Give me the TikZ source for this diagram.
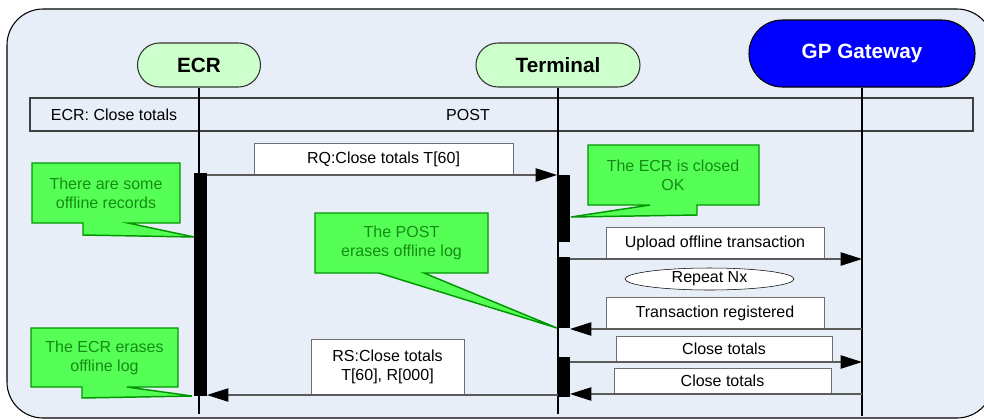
\documentclass[tikz,border=0pt]{standalone}
\usepackage{fontspec}
\setmainfont{Liberation Sans}
\usetikzlibrary{arrows.meta,shapes.geometric}

\definecolor{panel}{RGB}{232,238,248}
\definecolor{pillgreen}{RGB}{204,255,204}
\definecolor{gpblue}{RGB}{0,0,255}
\definecolor{notefill}{RGB}{85,255,85}
\definecolor{noteedge}{RGB}{0,150,0}
\definecolor{notetext}{RGB}{20,140,20}
\definecolor{msgline}{RGB}{90,90,90}
\definecolor{boxedge}{RGB}{110,110,110}

\tikzset{
  pill/.style={draw=black!80, fill=pillgreen, line width=0.8pt, rounded corners=16.5pt,
    minimum height=33pt, inner sep=0pt, font=\fontsize{15.5}{18}\selectfont\bfseries},
  lifeline/.style={line width=1pt, draw=black},
  actbar/.style={fill=black, draw=none, minimum width=9.75pt, inner sep=0pt, outer sep=0pt},
  msgbox/.style={draw=boxedge, fill=white, line width=0.7pt, inner sep=0pt, align=center,
    font=\fontsize{12}{14.25}\selectfont},
  msg/.style={draw=msgline, line width=0.9pt, -{Triangle[length=16pt,width=10pt,color=black]}},
  note/.style={fill=notefill, draw=noteedge, line width=1.1pt, line join=miter},
  notetxt/.style={text=notetext, align=center, font=\fontsize{12}{14.25}\selectfont},
  bandtxt/.style={font=\fontsize{12}{14.25}\selectfont},
}

\begin{document}
\begin{tikzpicture}[x=0.75pt,y=-0.75pt]
\useasboundingbox (0,0) rectangle (984,419);

% panel and header band
\draw[fill=panel, line width=0.8pt, rounded corners=27pt] (7,9) rectangle (993,418);
\draw[draw=black!75, fill=panel, line width=0.8pt] (30,98) rectangle (973,131);
\node[bandtxt] (bandL) at (114,115) {ECR: Close totals};
\node[bandtxt] (bandR) at (468,115) {POST};

% participants
\node[pill, minimum width=92.25pt] (ecr) at (199,65) {ECR};
\node[pill, minimum width=123pt] (term) at (558,65) {Terminal};
\node[pill, draw=black, fill=gpblue, text=white, minimum width=169.5pt,
      minimum height=50.25pt, rounded corners=25pt] (gp) at (862,53.5) {GP Gateway};

% lifelines
\coordinate (ecrEnd) at (199,414);
\coordinate (termEnd) at (558,414);
\coordinate (gpEnd) at (862,416);
\draw[lifeline] (ecr.south) -- (ecrEnd);
\draw[lifeline] (term.south) -- (termEnd);
\draw[lifeline] (gp.south) -- (gpEnd);

% activation bars
\node[actbar, minimum height=167.25pt] (ecrBar) at (200.5,284.5) {};
\node[actbar, minimum height=50.25pt] (tb1) at (563.5,208.5) {};
\node[actbar, minimum height=53.25pt] (tb2) at (563.5,292.5) {};
\node[actbar, minimum height=30pt] (tb3) at (563.5,377) {};

% notes
\draw[note] (32,163) -- (180,163) -- (180,223) -- (128,223) -- (194,237) -- (83,235) -- (83,223) -- (32,223) -- cycle;
\node[notetxt] (n1) at (106,193) {There are some\\offline records};

\draw[note] (588,145) -- (759,145) -- (759,205) -- (697,205) -- (697,215) -- (571,217) -- (650,205) -- (588,205) -- cycle;
\node[notetxt] (n2) at (673,175) {The ECR is closed\\OK};

\draw[note] (315,213) -- (488,213) -- (488,273) -- (424,273) -- (557,328) -- (379,273) -- (315,273) -- cycle;
\node[notetxt] (n3) at (401.5,243) {The POST\\erases offline log};

\draw[note] (31,328) -- (178,328) -- (178,387) -- (127,387) -- (192,396) -- (82,398) -- (82,387) -- (31,387) -- cycle;
\node[notetxt] (n4) at (104.5,357.5) {The ECR erases\\offline log};

% message labels
\node[msgbox, minimum width=194.25pt, minimum height=24pt] (rqbox) at (383.5,159) {RQ:Close totals T[60]};
\node[msgbox, minimum width=163.5pt, minimum height=24pt] (upbox) at (715,243) {Upload offline transaction};
\node[draw=black, fill=white, ellipse, minimum width=126.75pt, minimum height=16.5pt, inner sep=0pt,
      font=\fontsize{12}{14.25}\selectfont] (rep) at (709.5,279) {Repeat Nx};
\node[msgbox, minimum width=163.5pt, minimum height=24pt] (regbox) at (715,313) {Transaction registered};
\node[msgbox, minimum width=162pt, minimum height=19.5pt] (ct1box) at (724,349) {Close totals};
\node[msgbox, minimum width=162.75pt, minimum height=19.5pt] (ct2box) at (722.5,381) {Close totals};
\node[msgbox, minimum width=114.75pt, minimum height=42pt] (rsbox) at (387.5,367) {RS:Close totals\\T[60], R[000]};

% messages
\coordinate (up) at (862,259);
\coordinate (reg) at (862,329);
\coordinate (ct1) at (862,362);
\coordinate (ct2) at (862,394);
\coordinate (rs) at (558,395);
\draw[msg] (ecrBar.east |- tb1.north west) -- (tb1.north west);
\draw[msg] (tb2.east |- up) -- (up);
\draw[msg] (reg) -- (tb2.east |- reg);
\draw[msg] (tb3.east |- ct1) -- (ct1);
\draw[msg] (ct2) -- (tb3.east |- ct2);
\draw[msg] (rs) -- (ecrBar.east |- rs);
\end{tikzpicture}
\end{document}
